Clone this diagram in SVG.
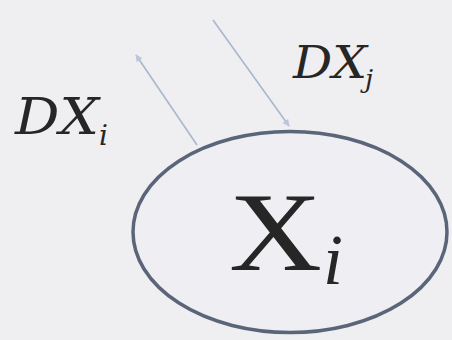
<svg xmlns="http://www.w3.org/2000/svg" width="452" height="340" viewBox="0 0 452 340">
<style>
.t{font-family:"DejaVu Serif","Liberation Serif",serif;fill:#262626}
.r{font-family:"Liberation Serif","DejaVu Serif",serif;fill:#262626}
.it{font-style:italic}
.arr{stroke:#a9b7cf;stroke-width:1.6;fill:none;marker-end:url(#ah)}
</style>
<defs>
<marker id="ah" viewBox="0 0 10 10" refX="9" refY="5" markerWidth="7" markerHeight="7" orient="auto" markerUnits="userSpaceOnUse">
<path d="M0,0 L10,5 L0,10 z" fill="#b9c6dc"/>
</marker>
</defs>
<rect width="452" height="340" fill="#efeef1"/>
<g id="connectors">
<line class="arr" x1="197" y1="145" x2="136" y2="55"/>
<line class="arr" x1="213" y1="20" x2="289" y2="126"/>
</g>
<g id="node-Xi">
<ellipse cx="290" cy="232" rx="157" ry="100.5" fill="#efeef2" stroke="#5b6579" stroke-width="3.5"/>
<text class="r" x="229" y="270" font-size="113" textLength="93" lengthAdjust="spacingAndGlyphs">X</text>
<text class="r it" x="323" y="284" font-size="72">i</text>
</g>
<g id="label-DXi">
<text class="t it" x="15" y="134" font-size="50" textLength="84" lengthAdjust="spacingAndGlyphs">DX</text>
<text class="t it" x="99" y="145" font-size="28">i</text>
</g>
<g id="label-DXj">
<text class="t it" x="293" y="78" font-size="44" textLength="74" lengthAdjust="spacingAndGlyphs">DX</text>
<text class="t it" x="365" y="88" font-size="26">j</text>
</g>
</svg>
